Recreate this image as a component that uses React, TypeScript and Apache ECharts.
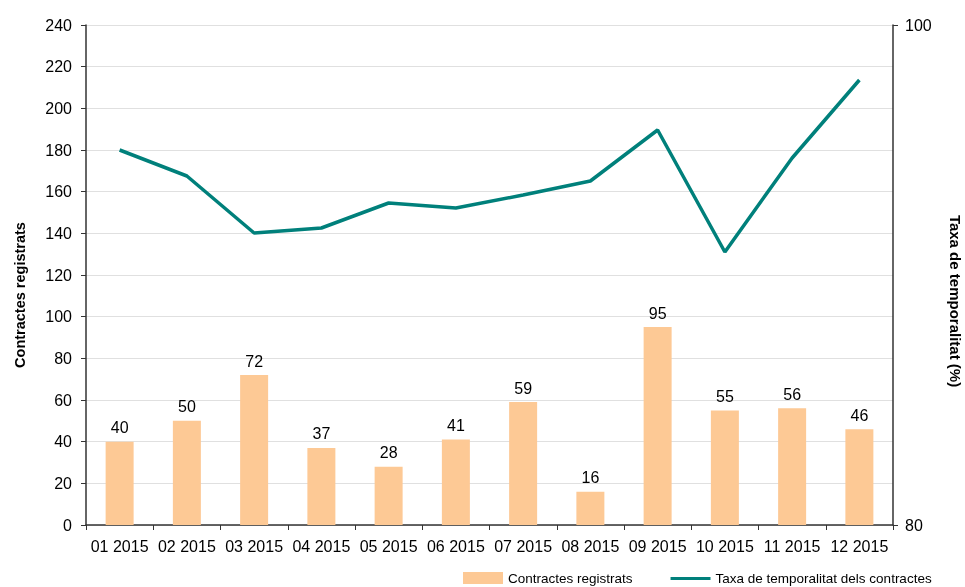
import React, { useEffect, useRef } from "react";
import * as echarts from "echarts";

const categories = ["01 2015", "02 2015", "03 2015", "04 2015", "05 2015", "06 2015", "07 2015", "08 2015", "09 2015", "10 2015", "11 2015", "12 2015"];
const contractes = [40, 50, 72, 37, 28, 41, 59, 16, 95, 55, 56, 46];
const taxa = [95.0, 93.96, 91.68, 91.88, 92.88, 92.68, 93.2, 93.76, 95.8, 90.92, 94.68, 97.8];

const lineIcon = "path://M0,0 L0.01,0 L0.01,0.01 Z M0,5 L40,5 L40,8 L0,8 Z M0,12 L0.01,12 L0.01,12.01 Z";

export default function App() {
  const ref = useRef<HTMLDivElement>(null);
  useEffect(() => {
    if (!ref.current) return;
    const chart = echarts.init(ref.current, null, { renderer: "svg" });
    const font = "Liberation Sans, Arial, sans-serif";
    chart.setOption({
      animation: false,
      textStyle: { fontFamily: font },
      grid: { left: 86, right: 72, top: 25, bottom: 62, outerBoundsMode: "none", containLabel: false },
      legend: {
        top: 571,
        left: 463,
        padding: 0,
        itemGap: 38,
        itemWidth: 40,
        itemHeight: 12,
        textStyle: { fontFamily: font, fontSize: 13.5, color: "#000" },
        data: [
          { name: "Contractes registrats", icon: "rect" },
          { name: "Taxa de temporalitat dels contractes", icon: lineIcon, itemStyle: { color: "#00807B" } },
        ],
      },
      xAxis: {
        type: "category",
        data: categories,
        axisLine: { lineStyle: { color: "#333", width: 1.5 } },
        axisTick: { show: true, length: 5, lineStyle: { color: "#333" } },
        axisLabel: { color: "#000", fontSize: 16, fontFamily: font, margin: 13, interval: 0 },
      },
      yAxis: [
        {
          type: "value",
          min: 0,
          max: 240,
          interval: 20,
          name: "Contractes registrats",
          nameLocation: "middle",
          nameGap: 59,
          nameTextStyle: { fontWeight: "bold", fontSize: 14.5, color: "#000", fontFamily: font, padding: [0, 40, 0, 0] },
          axisLine: { show: true, lineStyle: { color: "#333", width: 1.5 } },
          axisTick: { show: true, length: 5, lineStyle: { color: "#333" } },
          axisLabel: { color: "#000", fontSize: 16, fontFamily: font, margin: 14 },
          splitLine: { show: true, lineStyle: { color: "#e0e0e0", width: 1 } },
        },
        {
          type: "value",
          min: 80,
          max: 100,
          interval: 20,
          position: "right",
          name: "Taxa de temporalitat (%)",
          nameLocation: "middle",
          nameRotate: -90,
          nameGap: 55,
          nameTextStyle: { fontWeight: "bold", fontSize: 15, color: "#000", fontFamily: font, padding: [0, 0, 0, 52] },
          axisLine: { show: true, lineStyle: { color: "#333", width: 1.5 } },
          axisTick: { show: true, length: 5, lineStyle: { color: "#333" } },
          axisLabel: { color: "#000", fontSize: 16, fontFamily: font, margin: 12 },
          splitLine: { show: false },
        },
      ],
      series: [
        {
          name: "Contractes registrats",
          type: "bar",
          data: contractes,
          barWidth: 28,
          itemStyle: { color: "#FDC995" },
          label: { show: true, position: "top", color: "#000", fontSize: 16, fontFamily: font, distance: 6 },
        },
        {
          name: "Taxa de temporalitat dels contractes",
          type: "line",
          yAxisIndex: 1,
          data: taxa,
          symbol: "none",
          lineStyle: { color: "#00807B", width: 3.5 },
          itemStyle: { color: "#00807B" },
        },
      ],
    });
    return () => chart.dispose();
  }, []);
  return <div ref={ref} style={{ position: "fixed", left: 0, top: 0, width: 965, height: 587 }} />;
}
